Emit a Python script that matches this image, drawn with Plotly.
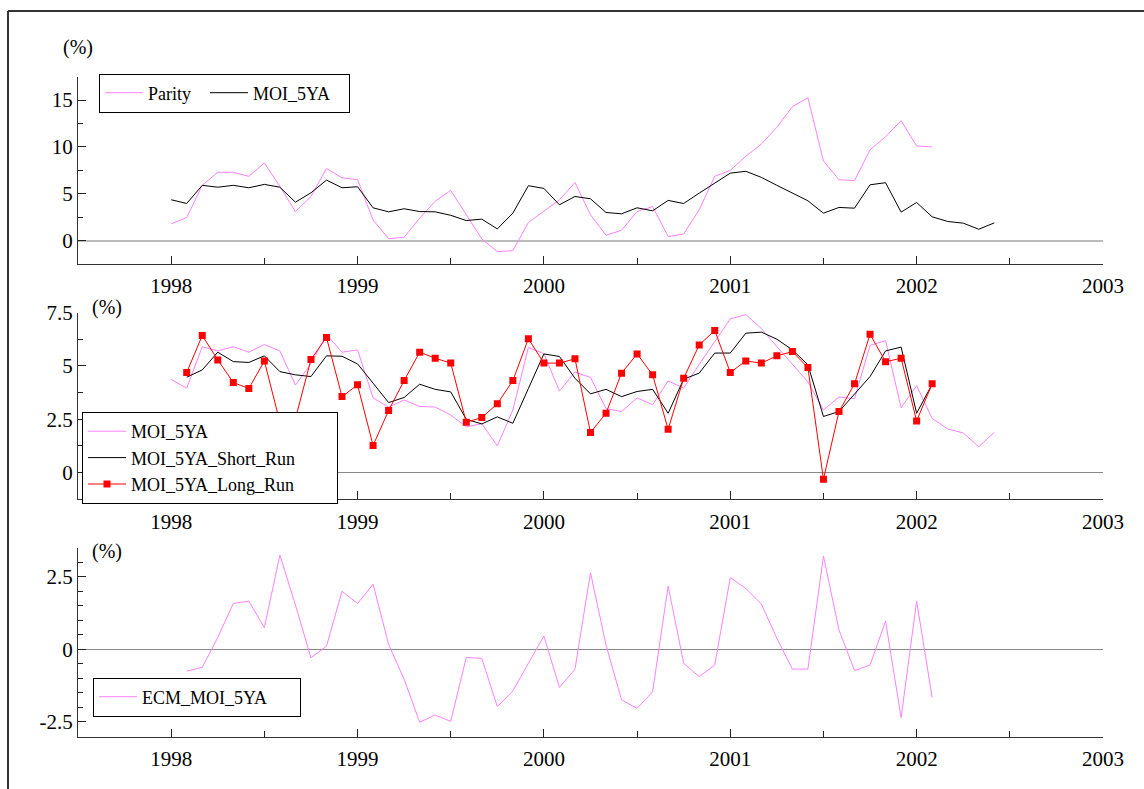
import plotly.graph_objects as go

# ---- data (monthly, starting Jan 1998) ----
start_year = 1998
parity = [1.79, 2.46, 5.9, 7.3, 7.3, 6.86, 8.3, 5.8, 3.1, 4.7, 7.7, 6.7, 6.5, 2.2, 0.2, 0.36,
          2.4, 4.2, 5.36, 2.75, 0.18, -1.18, -1.07, 1.93, 3.1, 4.36, 6.2, 2.75, 0.57, 1.1,
          3.1, 3.64, 0.43, 0.7, 3.3, 6.86, 7.5, 9.0, 10.3, 12.1, 14.3, 15.25, 8.5, 6.5, 6.4,
          9.7, 11.1, 12.8, 10.1, 10.0]
moi_5ya = [4.36, 3.96, 5.9, 5.7, 5.9, 5.64, 6.0, 5.7, 4.1, 5.1, 6.46, 5.64, 5.75, 3.5, 3.07,
           3.4, 3.1, 3.07, 2.7, 2.14, 2.29, 1.25, 2.93, 5.86, 5.57, 3.82, 4.71, 4.46, 3.0,
           2.86, 3.5, 3.18, 4.29, 3.96, 5.07, 6.14, 7.2, 7.4, 6.75, 5.9, 5.07, 4.25, 2.93,
           3.54, 3.46, 5.96, 6.18, 3.04, 4.07, 2.54, 2.04, 1.86, 1.21, 1.89]
# the following three series start in Feb 1998
short_run = [4.47, 4.81, 5.64, 5.2, 5.16, 5.47, 4.73, 4.58, 4.5, 5.47, 5.45, 5.09, 4.19, 3.28,
             3.52, 4.14, 3.9, 3.78, 2.5, 2.28, 2.61, 2.31, 3.94, 5.56, 5.44, 4.42, 3.69, 3.9,
             3.56, 3.8, 3.9, 2.78, 4.38, 4.66, 5.6, 5.6, 6.53, 6.58, 6.25, 5.75, 5.05, 2.63,
             2.86, 3.69, 4.5, 5.7, 5.88, 2.78, 4.14]
long_run = [4.69, 6.42, 5.28, 4.22, 3.94, 5.23, 2.36, 2.52, 5.3, 6.33, 3.56, 4.11, 1.27, 2.91,
            4.31, 5.64, 5.36, 5.13, 2.36, 2.58, 3.22, 4.31, 6.27, 5.13, 5.13, 5.33, 1.88, 2.78,
            4.66, 5.56, 4.58, 2.03, 4.42, 5.98, 6.66, 4.69, 5.23, 5.13, 5.47, 5.67, 4.92, -0.31,
            2.86, 4.16, 6.48, 5.19, 5.36, 2.42, 4.16]
ecm = [-0.75, -0.62, 0.41, 1.58, 1.66, 0.75, 3.25, 1.53, -0.29, 0.11, 2.0, 1.58, 2.24, 0.17,
       -1.03, -2.51, -2.26, -2.48, -0.28, -0.31, -1.97, -1.43, -0.48, 0.46, -1.31, -0.68, 2.64,
       0.15, -1.74, -2.03, -1.46, 2.18, -0.48, -0.94, -0.54, 2.47, 2.1, 1.56, 0.38, -0.68, -0.68,
       3.21, 0.67, -0.73, -0.54, 0.97, -2.35, 1.66, -1.66]

year_ticks = [1998, 1999, 2000, 2001, 2002, 2003]
year_labels = ["1998", "1999", "2000", "2001", "2002", "2003"]


def months(n, offset=0):
    return [start_year + (k + offset) / 12 for k in range(n)]


PINK = "#FF80FF"
FONT = "Liberation Serif"
W, H = 1144, 789
NB = "\u00a0"

fig = go.Figure()
fig.add_trace(go.Scatter(x=months(len(parity)), y=parity, name="Parity" + NB * 2, mode="lines",
                         line=dict(color=PINK, width=1), xaxis="x", yaxis="y", legend="legend"))
fig.add_trace(go.Scatter(x=months(len(moi_5ya)), y=moi_5ya, name="MOI_5YA" + NB * 3, mode="lines",
                         line=dict(color="black", width=1), xaxis="x", yaxis="y", legend="legend"))

fig.add_trace(go.Scatter(x=months(len(moi_5ya)), y=moi_5ya, name="MOI_5YA", mode="lines",
                         line=dict(color=PINK, width=1), xaxis="x2", yaxis="y2", legend="legend2"))
fig.add_trace(go.Scatter(x=months(len(short_run), 1), y=short_run,
                         name="MOI_5YA_Short_Run" + NB * 8,
                         mode="lines", line=dict(color="black", width=1),
                         xaxis="x2", yaxis="y2", legend="legend2"))
fig.add_trace(go.Scatter(x=months(len(long_run), 1), y=long_run, name="MOI_5YA_Long_Run",
                         mode="lines+markers", line=dict(color="#FF0000", width=1),
                         marker=dict(symbol="square", size=7, color="#FF0000"),
                         xaxis="x2", yaxis="y2", legend="legend2"))

fig.add_trace(go.Scatter(x=months(len(ecm), 1), y=ecm, name="ECM_MOI_5YA" + NB * 6, mode="lines",
                         line=dict(color=PINK, width=1), xaxis="x3", yaxis="y3", legend="legend3"))


def py(px):
    return 1 - px / H


xdom = [78 / W, 1103 / W]
doms = {
    1: [py(264), py(76.7)],
    2: [py(499.3), py(312.5)],
    3: [py(736.5), py(547.7)],
}
yranges = {1: [-2.5, 17.5], 2: [-1.25, 7.5], 3: [-3.0, 3.5]}
ytickvals = {1: [0, 5, 10, 15], 2: [0, 2.5, 5, 7.5], 3: [-2.5, 0, 2.5]}
yticktext = {1: ["0", "5", "10", "15"], 2: ["0", "2.5", "5", "7.5"], 3: ["-2.5", "0", "2.5"]}
yminor = {1: 2.5, 2: 1.25, 3: 0.5}
zl = {1: ("#BBBBBB", 2), 2: ("#888888", 1), 3: ("#888888", 1)}

lay = {}
for k in (1, 2, 3):
    xs = "xaxis" if k == 1 else f"xaxis{k}"
    ys = "yaxis" if k == 1 else f"yaxis{k}"
    lay[xs] = dict(domain=xdom, range=[1997.5, 2003], anchor="y" if k == 1 else f"y{k}",
                   tickmode="array", tickvals=year_ticks, ticktext=year_labels,
                   ticks="inside", ticklen=8, tickcolor="#222", tickwidth=1,
                   minor=dict(ticks="inside", ticklen=6, tickcolor="#222", dtick=0.5, tick0=1997.5),
                   showline=True, linecolor="#333", linewidth=1, showgrid=False, zeroline=False,
                   automargin=False,
                   tickfont=dict(family=FONT, size=21, color="black"), ticklabelstandoff=3)
    lay[ys] = dict(domain=doms[k], range=yranges[k], anchor="x" if k == 1 else f"x{k}",
                   tickmode="array", tickvals=ytickvals[k], ticktext=yticktext[k],
                   ticks="inside", ticklen=8, tickcolor="#222", tickwidth=1,
                   minor=dict(ticks="inside", ticklen=5, tickcolor="#222", dtick=yminor[k],
                              tick0=0),
                   showline=True, linecolor="#333", linewidth=1, showgrid=False,
                   zeroline=True, zerolinecolor=zl[k][0], zerolinewidth=zl[k][1],
                   automargin=False,
                   tickfont=dict(family=FONT, size=21, color="black"), ticklabelstandoff=0)

legstyle = dict(bgcolor="white", bordercolor="black", borderwidth=1, itemwidth=38,
                font=dict(family=FONT, size=18, color="black"), xanchor="left")

frame = dict(color="#333", width=2)

fig.update_layout(
    width=W, height=H, autosize=False,
    margin=dict(l=0, r=0, t=0, b=0, pad=0, autoexpand=False),
    paper_bgcolor="white", plot_bgcolor="white", showlegend=True,
    legend=dict(x=99 / W, y=py(93), yanchor="middle", orientation="h", **legstyle),
    legend2=dict(x=82 / W, y=py(458), yanchor="middle", orientation="v", tracegroupgap=0,
                 **legstyle),
    legend3=dict(x=93 / W, y=py(697), yanchor="middle", orientation="v", **legstyle),
    shapes=[
        dict(type="line", xref="paper", yref="paper", x0=8 / W, x1=1.0, y0=py(11), y1=py(11),
             line=frame),
        dict(type="line", xref="paper", yref="paper", x0=8 / W, x1=8 / W, y0=0.0, y1=py(11),
             line=frame),
    ],
    annotations=[
        dict(text="(%)", xref="paper", yref="paper", x=61 / W, y=py(48), xanchor="left",
             yanchor="middle", showarrow=False, font=dict(family=FONT, size=20, color="black")),
        dict(text="(%)", xref="paper", yref="paper", x=90 / W, y=py(307), xanchor="left",
             yanchor="middle", showarrow=False, font=dict(family=FONT, size=20, color="black")),
        dict(text="(%)", xref="paper", yref="paper", x=90 / W, y=py(551), xanchor="left",
             yanchor="middle", showarrow=False, font=dict(family=FONT, size=20, color="black")),
    ],
    **lay,
)

fig.write_html(
    "out.html",
    config={"responsive": False, "displayModeBar": False},
    post_script="document.body.style.margin='0';document.body.style.overflow='hidden';",
)
